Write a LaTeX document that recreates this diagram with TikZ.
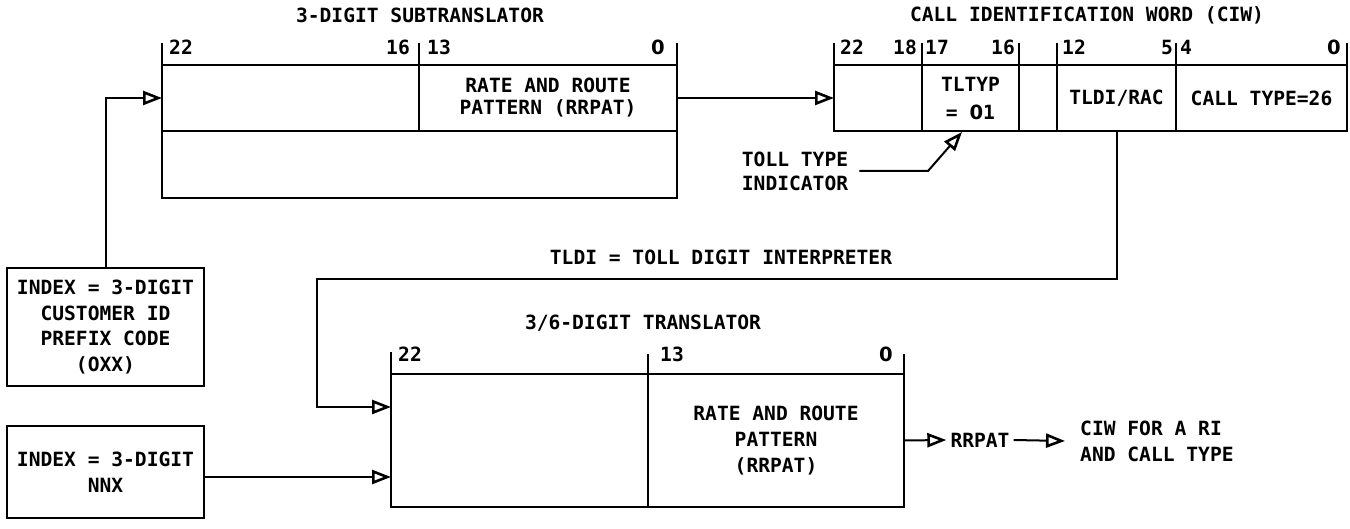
\documentclass[tikz,border=0pt]{standalone}
\usepackage{fontspec}
\usetikzlibrary{arrows.meta,calc}
\newfontfamily\dmono{DejaVu Sans Mono Bold}
\newfontfamily\dsans{DejaVu Sans Bold}
\newcommand{\dzero}{{\dsans 0}}
\tikzset{
  txt/.style={font=\dmono\fontsize{19.6}{24}\selectfont, inner sep=0pt, align=center},
  cell/.style={draw, line width=2pt, inner sep=0pt, outer sep=0pt, txt},
  tickln/.style={line width=1.2pt},
  conn/.style={line width=2pt},
  arr/.style={conn, -{Triangle[open, length=19pt, width=14pt, line width=2.6pt]}},
}
\begin{document}
\begin{tikzpicture}[x=1pt,y=-1pt]
\useasboundingbox (0,0) rectangle (1350,529);

% ---------- 3-digit subtranslator ----------
\node[txt] (sttitle) at (420,15) {3-DIGIT SUBTRANSLATOR};
\node[cell, minimum width=257pt, minimum height=66pt] (st1) at (290.5,98) {};
\node[cell, minimum width=258pt, minimum height=66pt, txt, font=\dmono\fontsize{19.6}{22}\selectfont] (st2) at (548,98) {RATE AND ROUTE\\PATTERN (RRPAT)};
\node[cell, minimum width=515pt, minimum height=67pt] (st3) at (419.5,164.5) {};
\draw[tickln] (st1.north west) -- ++(0,-22);
\draw[tickln] (st2.north west) -- ++(0,-22);
\draw[tickln] (st2.north east) -- ++(0,-22);
\node[txt, anchor=west] (stl22) at (169,47) {22};
\node[txt, anchor=east] (stl16) at (410,47) {16};
\node[txt, anchor=west] (stl13) at (427,47) {13};
\node[txt, anchor=east] (stl0) at (665,47) {\dzero};

% ---------- CIW ----------
\node[txt] (ciwtitle) at (1087,15) {CALL IDENTIFICATION WORD (CIW)};
\node[cell, minimum width=88pt, minimum height=66pt] (c1) at (878,98) {};
\node[cell, minimum width=97pt, minimum height=66pt, font=\dmono\fontsize{19.6}{28}\selectfont] (c2) at (970.5,98) {TLTYP\\= \dzero1};
\node[cell, minimum width=38pt, minimum height=66pt] (c3) at (1038,98) {};
\node[cell, minimum width=119pt, minimum height=66pt] (c4) at (1116.5,98) {TLDI/RAC};
\node[cell, minimum width=171pt, minimum height=66pt] (c5) at (1261.5,98) {CALL TYPE=26};
\draw[tickln] (c1.north west) -- ++(0,-22);
\draw[tickln] (c2.north west) -- ++(0,-22);
\draw[tickln] (c2.north east) -- ++(0,-22);
\draw[tickln] (c4.north west) -- ++(0,-22);
\draw[tickln] (c5.north west) -- ++(0,-22);
\draw[tickln] (c5.north east) -- ++(0,-22);
\node[txt, anchor=west] (cl22) at (840,47) {22};
\node[txt, anchor=east] (cl18) at (917,47) {18};
\node[txt, anchor=west] (cl17) at (925,47) {17};
\node[txt, anchor=east] (cl16) at (1015,47) {16};
\node[txt, anchor=west] (cl12) at (1062,47) {12};
\node[txt, anchor=east] (cl5) at (1173,47) {5};
\node[txt, anchor=west] (cl4) at (1180,47) {4};
\node[txt, anchor=east] (cl0) at (1341,47) {\dzero};

% toll type indicator
\node[txt] (ttl) at (795,171) {TOLL TYPE\\INDICATOR};
\coordinate (tbend) at (928,171);
\coordinate (ttip) at (962,132);
\draw[arr] ([xshift=11pt]ttl.east) -- (tbend) -- (ttip);

% ---------- index boxes ----------
\node[cell, minimum width=197pt, minimum height=118pt, font=\dmono\fontsize{19.6}{25.5}\selectfont] (i1) at (105.5,327) {INDEX = 3-DIGIT\\CUSTOMER ID\\PREFIX CODE\\(OXX)};
\node[cell, minimum width=197pt, minimum height=92pt, font=\dmono\fontsize{19.6}{26}\selectfont] (i2) at (105.5,472) {INDEX = 3-DIGIT\\NNX};

% ---------- 3/6-digit translator ----------
\node[txt] (trtitle) at (643,323) {3/6-DIGIT TRANSLATOR};
\node[txt] (tldi) at (721,257) {TLDI = TOLL DIGIT INTERPRETER};
\node[cell, minimum width=257pt, minimum height=133pt] (t1) at (519.5,440.5) {};
\node[cell, minimum width=256pt, minimum height=133pt, font=\dmono\fontsize{19.6}{26}\selectfont] (t2) at (776,440.5) {RATE AND ROUTE\\PATTERN\\(RRPAT)};
\draw[tickln] (t1.north west) -- ++(0,-22);
\draw[tickln] (t2.north west) -- ++(0,-20);
\draw[tickln] (t2.north east) -- ++(0,-20);
\node[txt, anchor=west] (tl22) at (398,354) {22};
\node[txt, anchor=west] (tl13) at (660,354) {13};
\node[txt, anchor=east] (tl0) at (893,354) {\dzero};

% output labels
\node[txt, inner sep=4pt] (rr) at (980,440) {RRPAT};
\node[txt, anchor=west, align=left, font=\dmono\fontsize{19.6}{26}\selectfont] (ciwt) at (1080,441) {CIW FOR A RI\\AND CALL TYPE};

% ---------- connectors ----------
\draw[arr] (i1.north) |- (st1.west);
\draw[arr] (st2.east) -- (c1.west);
\coordinate (lpA) at (317,279);
\coordinate (t1in) at (391,407);
\draw[arr] (c4.south) |- (lpA) |- (t1in);
\coordinate (t1in2) at (391,477);
\draw[arr] (i2.east |- t1in2) -- (t1in2);
\draw[arr] (t2.east) -- (rr.west);
\draw[arr] (rr.east) -- ([xshift=-15pt]ciwt.west);
\end{tikzpicture}
\end{document}
